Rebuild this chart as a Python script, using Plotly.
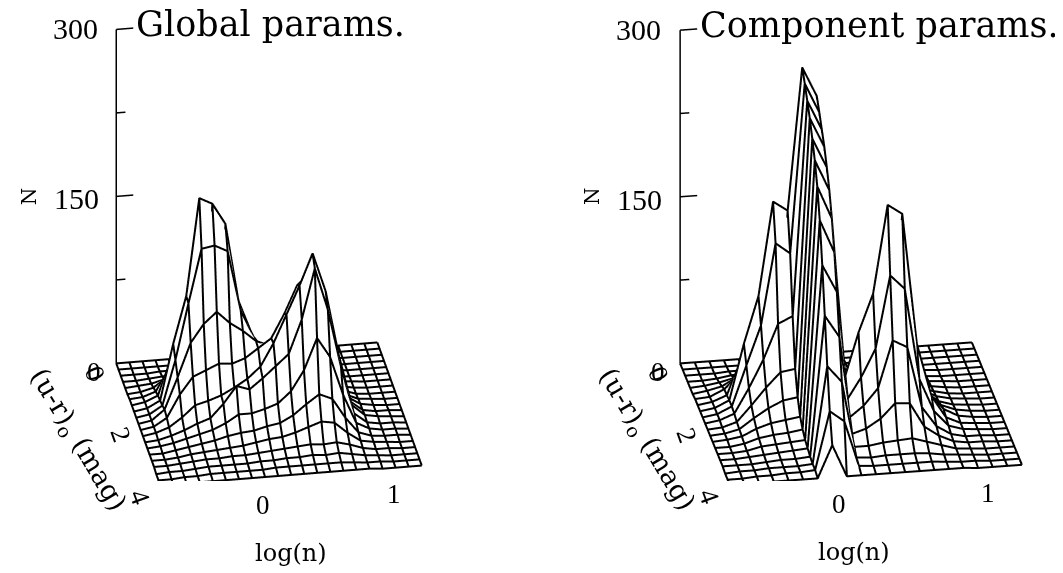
import plotly.graph_objects as go

log_n = [round(-0.8 + 0.1 * i, 1) for i in range(21)]
u_r = [round(0.2 * j, 1) for j in range(21)]

global_counts = [
    [0,0,0,0,0,0,0,0,0,0,0,0,0,0,0,0,0,0,0,0,0],
    [0,0,0,0,0,0,0,0,0,0,0,0,0,0,0,0,0,0,0,0,0],
    [0,0,0,1,1,1,1,1,0,0,0,0,0,0,0,0,0,0,0,0,0],
    [0,0,1,2,3,4,3,2,1,1,1,1,1,1,1,0,0,0,0,0,0],
    [0,1,2,5,9,12,10,6,3,2,2,2,2,2,2,2,1,0,0,0,0],
    [0,1,4,12,25,35,30,18,9,5,4,4,5,6,5,3,1,0,0,0,0],
    [1,2,6,25,55,80,75,45,22,12,8,8,10,13,11,6,2,1,0,0,0],
    [1,3,8,40,85,135,130,95,50,25,15,14,18,25,20,10,3,1,0,0,0],
    [1,3,9,59,101,188,182,163,93,63,35,28,35,50,40,18,5,1,0,0,0],
    [1,3,10,50,100,148,150,144,90,65,50,45,55,85,70,30,7,2,1,0,0],
    [1,3,12,40,70,86,96,85,77,67,62,65,80,125,100,50,10,3,1,0,0],
    [1,3,10,30,45,50,55,54,58,66,74,95,120,130,110,55,12,3,1,1,0],
    [1,3,7,15,25,28,32,38,45,55,75,100,125,153,118,60,14,4,2,1,0],
    [1,2,5,9,14,18,30,45,41,50,60,70,100,145,107,55,12,3,1,1,0],
    [1,2,4,7,10,13,18,25,25,28,32,42,60,88,70,35,9,3,1,1,0],
    [1,1,3,5,7,9,12,14,15,18,20,26,35,43,38,20,6,2,1,1,0],
    [1,1,2,4,5,6,7,8,10,12,13,16,20,24,22,12,4,2,1,0,0],
    [1,1,2,3,4,4,5,5,6,7,8,9,10,9,10,7,3,1,1,0,0],
    [0,1,1,2,3,3,3,3,4,4,5,5,6,5,6,4,2,1,0,0,0],
    [0,0,1,1,2,2,2,2,2,3,3,3,3,3,3,2,1,1,0,0,0],
    [0,0,0,1,1,1,1,1,1,1,1,1,1,1,1,1,1,0,0,0,0],
]

component_counts = [
    [0,0,0,0,0,0,0,0,0,0,0,0,0,0,0,0,0,0,0,0,0],
    [0,0,0,0,0,0,0,0,0,0,0,0,0,0,0,0,0,0,0,0,0],
    [0,0,0,1,1,1,1,1,2,1,1,1,1,0,0,0,0,0,0,0,0],
    [0,0,1,3,4,5,5,3,5,3,1,1,1,1,1,1,0,0,0,0,0],
    [0,1,3,6,10,14,14,15,20,5,3,2,2,2,2,2,1,0,0,0,0],
    [0,2,5,12,25,45,45,80,60,8,4,4,4,5,5,3,1,0,0,0,0],
    [1,2,8,20,45,90,85,180,140,14,6,6,8,10,8,4,2,1,0,0,0],
    [1,3,8,40,80,140,130,270,240,20,10,10,12,18,12,6,3,1,0,0,0],
    [1,3,9,59,101,185,176,304,277,25,14,14,20,32,18,8,4,1,0,0,0],
    [1,3,9,45,80,153,143,295,268,28,20,20,35,55,30,12,5,2,1,0,0],
    [1,3,8,30,55,86,92,285,258,32,28,30,55,85,40,16,6,2,1,0,0],
    [1,2,6,20,35,48,50,275,248,35,40,50,90,120,50,20,8,3,1,0,0],
    [1,2,5,14,22,28,30,262,235,40,70,105,170,165,65,25,10,3,1,0,0],
    [1,2,4,10,14,16,18,248,220,48,90,124,203,194,76,28,8,2,1,0,0],
    [1,1,3,7,9,10,12,230,200,35,55,80,145,132,50,20,6,2,1,0,0],
    [1,1,2,5,6,7,8,205,175,25,35,50,92,85,30,12,4,1,1,0,0],
    [1,1,2,3,4,5,6,170,145,16,20,28,41,40,18,9,3,1,1,0,0],
    [1,1,1,2,3,3,4,130,110,10,10,12,13,14,10,6,2,1,0,0,0],
    [0,1,1,2,2,2,3,90,75,6,5,6,6,6,5,3,2,1,0,0,0],
    [0,0,1,1,2,2,3,55,45,4,3,3,3,3,3,2,1,1,0,0,0],
    [0,0,0,1,1,1,1,30,1,1,1,1,1,1,1,1,1,0,0,0,0],
]

titles = ["Global params.", "Component params."]
z_ticks = [0, 75, 150, 225, 300]
z_tick_labels = {0: "0", 150: "150", 300: "300"}
x_tick_labels = {0: "0", 1: "1"}
y_tick_labels = {0: "0", 2: "2", 4: "4"}

XMIN, XMAX, YMIN, YMAX = -0.8, 1.2, 0.0, 4.0
SERIF = "DejaVu Serif"
DIGIT = "Liberation Serif"
MESH_WIDTH = 4
# the white hidden-line surface sits a hair behind the mesh, along the view direction
BEHIND_X, BEHIND_Y, BEHIND_Z = 0.006, -0.07, -2.0


def annotation(text, x, y, z, dx, dy, size, family=SERIF, angle=0, xanchor="center"):
    return dict(text=text, x=x, y=y, z=z, xshift=dx, yshift=dy, showarrow=False,
                textangle=angle, xanchor=xanchor, yanchor="middle",
                font=dict(family=family, size=size, color="black"))


def axis_lines(scene, tick_long, tick_short):
    xs, ys, zs = [XMIN, XMIN], [YMIN, YMIN], [0, 300]
    for t in z_ticks[1:]:
        length = tick_long if t in (150, 300) else tick_short
        xs += [None, XMIN, XMIN + length]
        ys += [None, YMIN, YMIN]
        zs += [None, t, t]
    return go.Scatter3d(x=xs, y=ys, z=zs, mode="lines", scene=scene, showlegend=False,
                        hoverinfo="skip", line=dict(color="black", width=3))


def mesh(z, scene):
    xs, ys, zs = [], [], []
    for j, y in enumerate(u_r):
        xs += log_n + [None]
        ys += [y] * len(log_n) + [None]
        zs += z[j] + [None]
    for i, x in enumerate(log_n):
        xs += [x] * len(u_r) + [None]
        ys += u_r + [None]
        zs += [row[i] for row in z] + [None]
    return go.Scatter3d(x=xs, y=ys, z=zs, mode="lines", scene=scene, showlegend=False,
                        hoverinfo="skip", line=dict(color="black", width=MESH_WIDTH))


def surface(z, scene):
    return go.Surface(
        x=[v + BEHIND_X for v in log_n],
        y=[v + BEHIND_Y for v in u_r],
        z=[[v + BEHIND_Z for v in row] for row in z],
        scene=scene, showscale=False, hoverinfo="skip",
        colorscale=[[0, "white"], [1, "white"]],
        lighting=dict(ambient=1, diffuse=0, specular=0, fresnel=0, roughness=1),
        contours=dict(
            x=dict(show=False, highlight=False),
            y=dict(show=False, highlight=False),
            z=dict(show=False, highlight=False),
        ),
    )


def scene_layout(domain_x, title, aspect, eye, x_dx, title_size, label_dx, logn_dx):
    hidden = dict(visible=False, showgrid=False, zeroline=False, showspikes=False)
    ann = [annotation(title, XMIN, YMIN, 300, 18, 5, title_size, xanchor="left")]
    ann.append(annotation(z_tick_labels[0], XMIN, YMIN, 0, -22, -9, 27, DIGIT))
    ann.append(annotation(z_tick_labels[150], XMIN, YMIN, 150, -40, -3, 30, DIGIT))
    ann.append(annotation(z_tick_labels[300], XMIN, YMIN, 300, -41, 0, 30, DIGIT))
    for y, t in y_tick_labels.items():
        ann.append(annotation(t, XMIN, y, 0, -18 if y == 2 else -21, -11, 27, DIGIT, angle=70))
    for x, t in x_tick_labels.items():
        ann.append(annotation(t, x, YMAX, 0, x_dx[x], -27, 27, DIGIT))
    ann.append(annotation("(u-r)<sub>o</sub> (mag)", XMIN, 2, 0, label_dx, -16, 27, angle=59))
    ann.append(annotation("log(n)", 0.2, YMAX, 0, logn_dx, -77, 24))
    ann.append(annotation("N", XMIN, YMIN, 150, -87, 0, 20, angle=-90))
    return dict(
        domain=dict(x=domain_x, y=[0.1754, 0.9904]),
        xaxis=dict(range=[XMIN - 0.02, XMAX + 0.02], **hidden),
        yaxis=dict(range=[YMAX + 0.1, YMIN - 0.1], **hidden),
        zaxis=dict(range=[-10, 310], **hidden),
        aspectmode="manual",
        aspectratio=aspect,
        bgcolor="white",
        dragmode=False,
        camera=dict(
            projection=dict(type="orthographic"),
            up=dict(x=0, y=0, z=1),
            center=dict(x=0, y=0, z=0),
            eye=eye,
        ),
        annotations=ann,
    )


fig = go.Figure([
    surface(global_counts, "scene"), mesh(global_counts, "scene"), axis_lines("scene", 0.13, 0.07),
    surface(component_counts, "scene2"), mesh(component_counts, "scene2"), axis_lines("scene2", 0.117, 0.063),
])
W = 1063.0
fig.update_layout(
    width=1063, height=573, margin=dict(l=0, r=0, t=0, b=0),
    paper_bgcolor="white", showlegend=False,
    scene=scene_layout([31 / W, 491 / W], titles[0],
                       dict(x=1.1567, y=1.1907, z=1.730),
                       dict(x=-0.222, y=-1.305, z=0.708),
                       {0: -2, 1: -2}, 35, -61, 0),
    scene2=scene_layout([622.5 / W, 1062.5 / W], titles[1],
                        dict(x=1.293, y=1.331, z=1.677),
                        dict(x=-0.230, y=-1.341, z=0.629),
                        {0: -7, 1: -4}, 35, -58, -22),
)
fig.write_html("out.html", config=dict(displayModeBar=False))
